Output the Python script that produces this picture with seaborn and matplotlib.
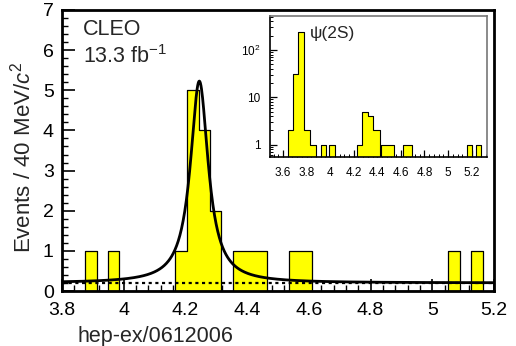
import matplotlib
matplotlib.use("Agg")
import numpy as np
import pandas as pd
import seaborn as sns
import matplotlib.pyplot as plt
from matplotlib.ticker import MultipleLocator, FixedLocator, FuncFormatter, NullFormatter, LogLocator

# ---------------- data ----------------
# main histogram (40 MeV bins): left / right edges and counts
main_left = [3.875, 3.949, 4.166, 4.206, 4.244, 4.280, 4.354, 4.391, 4.428, 4.536, 4.573, 5.051, 5.125]
main_right = [3.913, 3.985, 4.206, 4.244, 4.280, 4.315, 4.391, 4.428, 4.464, 4.573, 4.610, 5.090, 5.164]
main_counts = [1, 1, 1, 5, 4, 2, 1, 1, 1, 1, 1, 1, 1]

# inset histogram (log scale, includes psi(2S))
inset_left = [3.642, 3.685, 3.727, 3.778, 3.829, 3.922, 3.990, 4.227, 4.269, 4.320, 4.363, 4.430, 4.617, 5.159, 5.236]
inset_right = [3.685, 3.727, 3.778, 3.829, 3.880, 3.964, 4.041, 4.269, 4.320, 4.363, 4.422, 4.541, 4.692, 5.201, 5.278]
inset_counts = [2, 31, 240, 2, 1, 1, 1, 1, 5, 4, 2, 1, 1, 1, 1]

# Breit-Wigner fit + flat background
fit_mass = 4.245
fit_width = 0.070
fit_peak = 5.03
bg_level = 0.2

main_xticks = [3.8, 4.0, 4.2, 4.4, 4.6, 4.8, 5.0, 5.2]
inset_xticks = [3.6, 3.8, 4.0, 4.2, 4.4, 4.6, 4.8, 5.0, 5.2]

# ---------------- style ----------------
sns.set_theme(style="white")
plt.rcParams["font.family"] = ["Liberation Sans", "DejaVu Sans"]
plt.rcParams["mathtext.fontset"] = "custom"
plt.rcParams["mathtext.rm"] = "Liberation Sans"
plt.rcParams["mathtext.it"] = "Liberation Sans:italic"

YELLOW = "#ffff00"

fig = plt.figure(figsize=(5.16, 3.46), dpi=100)
ax = fig.add_axes([62 / 516, 55 / 346, 432 / 516, 281 / 346])


def hist_frame(left, right, counts):
    edges = sorted(set(left) | set(right))
    centers = [(l + r) / 2 for l, r in zip(left, right)]
    return pd.DataFrame({"x": centers, "w": counts}), edges


df_main, edges_main = hist_frame(main_left, main_right, main_counts)
sns.histplot(data=df_main, x="x", weights="w", bins=edges_main, element="step",
             fill=True, color=YELLOW, alpha=1, edgecolor="black", linewidth=0.9,
             ax=ax, zorder=2)

xx = np.linspace(3.8, 5.2, 800)
half = fit_width / 2
curve = bg_level + fit_peak * half ** 2 / ((xx - fit_mass) ** 2 + half ** 2)
sns.lineplot(x=xx, y=curve, color="black", linewidth=2.0, ax=ax, zorder=4)
ax.axhline(bg_level, color="black", linewidth=1.6, linestyle=(0, (1.4, 1.6)), zorder=3)

ax.set_xlim(3.8, 5.2)
ax.set_ylim(0, 7)
ax.set_xlabel("")
ax.set_ylabel("")
ax.xaxis.set_major_locator(FixedLocator(main_xticks))
ax.xaxis.set_minor_locator(MultipleLocator(0.04))
ax.xaxis.set_major_formatter(FuncFormatter(lambda v, p: f"{v:g}"))
ax.yaxis.set_major_locator(MultipleLocator(1))
ax.yaxis.set_minor_locator(MultipleLocator(0.2))
ax.tick_params(axis="both", which="both", direction="in", top=False, right=False,
               bottom=True, left=True, colors="black", labelsize=14)
ax.tick_params(axis="x", which="major", length=9, width=1.2, pad=8)
ax.tick_params(axis="y", which="major", length=9, width=1.2, pad=6)
ax.tick_params(which="minor", length=4.5, width=1.0)
for s in ax.spines.values():
    s.set_color("black")
    s.set_linewidth(2.0)
    s.set_zorder(6)

ax.text(0.048, 0.968, "CLEO", transform=ax.transAxes, fontsize=15.5, ha="left", va="top")
ax.text(0.048, 0.875, "13.3 fb$^{\\mathregular{-1}}$", transform=ax.transAxes, fontsize=15.5,
        ha="left", va="top")

fig.text(0.043, 0.545, "Events / 40 MeV/$c^2$", rotation=90, ha="center", va="center",
         fontsize=16)
fig.text(155 / 516, 4 / 346, "hep-ex/0612006", ha="center", va="baseline", fontsize=15.5)

# ---------------- inset ----------------
axin = fig.add_axes([270 / 516, 189 / 346, 217 / 516, 141 / 346])
df_in, edges_in = hist_frame(inset_left, inset_right, inset_counts)
sns.histplot(data=df_in, x="x", weights="w", bins=edges_in, element="step",
             fill=True, color=YELLOW, alpha=1, edgecolor="black", linewidth=0.8,
             ax=axin, zorder=2)
axin.set_yscale("log")
axin.set_xlim(3.49, 5.33)
axin.set_ylim(0.55, 520)
axin.set_xlabel("")
axin.set_ylabel("")
axin.xaxis.set_major_locator(FixedLocator(inset_xticks))
axin.xaxis.set_minor_locator(MultipleLocator(0.04))
axin.xaxis.set_major_formatter(FuncFormatter(lambda v, p: f"{v:g}"))
axin.yaxis.set_major_locator(FixedLocator([1, 10, 100]))
axin.yaxis.set_major_formatter(FuncFormatter(
    lambda v, p: {1: "1", 10: "10", 100: "10$^{\\mathregular{2}}$"}.get(int(round(v)), "")))
axin.yaxis.set_minor_locator(LogLocator(base=10, subs=np.arange(2, 10)))
axin.yaxis.set_minor_formatter(NullFormatter())
axin.tick_params(axis="both", which="both", direction="in", top=False, right=False,
                 bottom=True, left=True, colors="black", labelsize=8.5)
axin.tick_params(which="major", length=5, width=0.9, pad=7)
axin.tick_params(which="minor", length=2.5, width=0.7)
for name, s in axin.spines.items():
    s.set_linewidth(1.2)
    s.set_color("black" if name in ("left", "bottom") else "#777777")
    s.set_zorder(6)
axin.text(0.185, 0.875, "ψ(2S)", transform=axin.transAxes, fontsize=12.5, ha="left", va="center")

fig.savefig("out.png", dpi=100)
